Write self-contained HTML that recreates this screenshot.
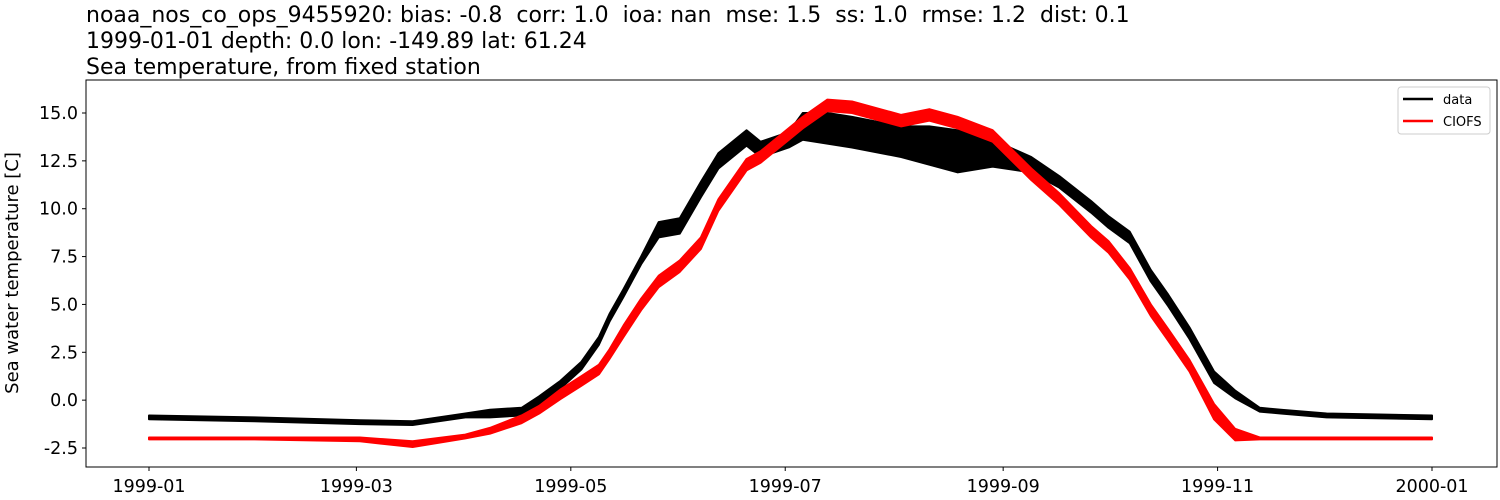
<!DOCTYPE html>
<html><head><meta charset="utf-8"><style>
body{margin:0;background:#fff;}
svg{display:block;font-family:"DejaVu Sans","Liberation Sans",sans-serif;}
text{white-space:pre;}
</style></head><body>
<svg id="chart" width="1500" height="500">
<text x="86" y="22" font-size="22" xml:space="preserve">noaa_nos_co_ops_9455920: bias: -0.8  corr: 1.0  ioa: nan  mse: 1.5  ss: 1.0  rmse: 1.2  dist: 0.1</text>
<text x="86" y="48" font-size="22">1999-01-01 depth: 0.0 lon: -149.89 lat: 61.24</text>
<text x="86" y="74" font-size="22">Sea temperature, from fixed station</text>
<text transform="translate(18,273) rotate(-90)" text-anchor="middle" font-size="18">Sea water temperature [C]</text>
<g id="series"></g>
<rect x="86" y="80" width="1411" height="387" fill="none" stroke="#000" stroke-width="1"/>
<g id="axes"></g>
<g>
<rect x="1398" y="87" width="92" height="47" rx="3" fill="#fff" stroke="#ccc"/>
<line x1="1403" y1="99" x2="1433" y2="99" stroke="#000" stroke-width="2.5"/>
<text x="1443" y="104" font-size="13">data</text>
<line x1="1403" y1="121" x2="1433" y2="121" stroke="#f00" stroke-width="2.5"/>
<text x="1443" y="126" font-size="13">CIOFS</text>
</g>
</svg>
<script>
const days = [0,30,60,75,90,97,106,111,117,123,128,131,135,140,145,151,157,162,170,174,182,186,193,200,214,222,230,240,251,259,268,273,279,285,290,296,303,309,316,322,335,365];
const dataVals = [-0.9,-1.0,-1.15,-1.2,-0.8,-0.7,-0.6,0.0,0.8,1.8,3.1,4.3,5.6,7.3,8.9,9.1,11.0,12.5,13.7,13.1,13.6,14.3,14.2,14.0,13.5,13.3,13.0,12.9,12.3,11.4,10.1,9.3,8.5,6.5,5.2,3.5,1.2,0.3,-0.5,-0.6,-0.8,-0.9];
const dataAmp = [0.1,0.1,0.1,0.1,0.1,0.2,0.2,0.2,0.2,0.2,0.2,0.2,0.2,0.2,0.4,0.4,0.4,0.4,0.4,0.4,0.4,0.7,0.8,0.8,0.8,1.0,1.1,0.7,0.4,0.3,0.3,0.3,0.3,0.3,0.3,0.3,0.3,0.2,0.1,0.1,0.1,0.1];
const modelVals = [-2.0,-2.0,-2.05,-2.3,-1.9,-1.6,-1.0,-0.5,0.3,1.0,1.6,2.4,3.6,5.0,6.2,7.0,8.2,10.2,12.3,12.7,13.9,14.5,15.4,15.3,14.6,14.9,14.5,13.8,11.8,10.5,8.8,8.0,6.6,4.7,3.4,1.8,-0.6,-1.8,-2.0,-2.0,-2.0,-2.0];
const modelAmp = [0.05,0.05,0.1,0.15,0.1,0.15,0.2,0.2,0.25,0.25,0.25,0.25,0.3,0.3,0.3,0.3,0.3,0.3,0.3,0.3,0.3,0.3,0.3,0.3,0.3,0.3,0.3,0.3,0.3,0.3,0.3,0.3,0.3,0.3,0.3,0.3,0.4,0.3,0.05,0.05,0.05,0.05];
const yTicks = [-2.5,0,2.5,5,7.5,10,12.5,15];
const xTickDays = [0,59,120,181,243,304,365];
const xTickLabels = ["1999-01","1999-03","1999-05","1999-07","1999-09","1999-11","2000-01"];

const NS="http://www.w3.org/2000/svg";
const xS = d => 149 + d*(1283/365);
const yS = v => 113 + (15-v)*(335/17.5);
function mk(tag, attrs, parent){const e=document.createElementNS(NS,tag);for(const k in attrs)e.setAttribute(k,attrs[k]);parent.appendChild(e);return e;}
const series=document.getElementById('series'), axes=document.getElementById('axes');

function drawSeries(vals, amp, color, name){
  let up=[],lo=[];
  for(let i=0;i<days.length;i++){up.push(xS(days[i])+','+yS(vals[i]+amp[i]));lo.unshift(xS(days[i])+','+yS(vals[i]-amp[i]));}
  const band=mk('polygon',{points:up.concat(lo).join(' '),fill:color,stroke:color,'stroke-width':2,'stroke-linejoin':'round'},series);
  
  
  const pl=mk('polyline',{points:days.map((d,i)=>xS(d)+','+yS(vals[i])).join(' '),fill:'none',stroke:color,'stroke-width':2.5,'stroke-linejoin':'round'},series);
  
  
}
drawSeries(dataVals,dataAmp,'#000','data');
drawSeries(modelVals,modelAmp,'#f00','ciofs');

yTicks.forEach(v=>{
  const y=yS(v);
  const t=mk('line',{x1:82,x2:86,y1:y,y2:y,stroke:'#000'},axes);
  
  
  const l=mk('text',{x:78,y:y+6,'text-anchor':'end','font-size':17.5},axes);
  l.textContent=v.toFixed(1);
  
  
});
xTickDays.forEach((d,i)=>{
  const x=xS(d);
  const t=mk('line',{x1:x,x2:x,y1:467,y2:471,stroke:'#000'},axes);
  
  
  const l=mk('text',{x:x,y:492,'text-anchor':'middle','font-size':17.5},axes);
  l.textContent=xTickLabels[i];
  
  
});
</script>
</body></html>
